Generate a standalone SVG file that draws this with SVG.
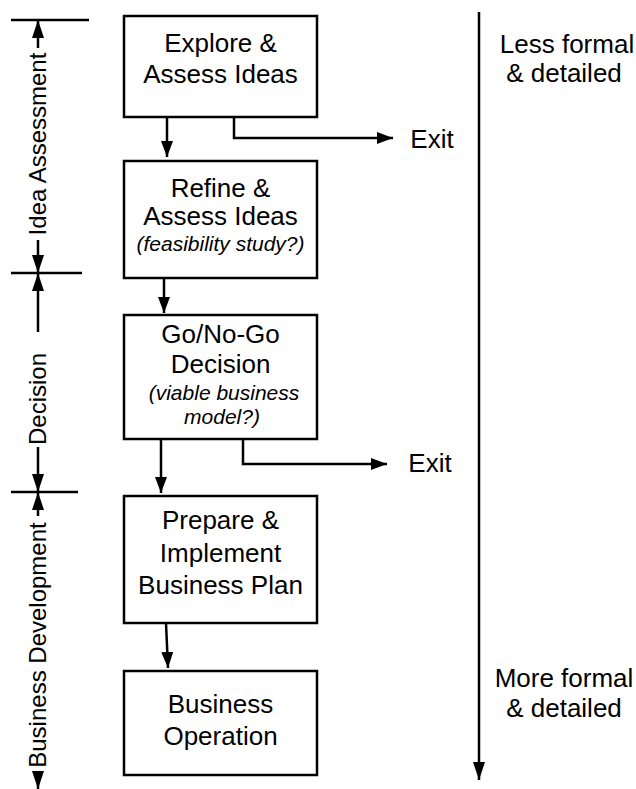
<svg xmlns="http://www.w3.org/2000/svg" width="636" height="789" viewBox="0 0 636 789">
<defs>
<style>
.box{fill:#fff;stroke:#000;stroke-width:2.5}
.t{font-family:"Liberation Sans",Arial,sans-serif;font-size:26px;fill:#000;text-anchor:middle}
.i{font-family:"Liberation Sans",Arial,sans-serif;font-size:21px;font-style:italic;fill:#000;text-anchor:middle}
.l{font-family:"Liberation Sans",Arial,sans-serif;font-size:24px;fill:#000;text-anchor:middle}
.ln{fill:none;stroke:#000;stroke-width:2.5}
.dm{fill:none;stroke:#000;stroke-width:2.5}
</style>
<marker id="ah" viewBox="0 0 16 12" refX="16" refY="6" markerWidth="16" markerHeight="12" markerUnits="userSpaceOnUse" orient="auto">
<path d="M0,0 L16,6 L0,12 Z" fill="#000"/>
</marker>
<marker id="ad" viewBox="0 0 18 12" refX="18" refY="6" markerWidth="18" markerHeight="12" markerUnits="userSpaceOnUse" orient="auto">
<path d="M0,0 L18,6 L0,12 Z" fill="#000"/>
</marker>
</defs>
<rect width="636" height="789" fill="#fff"/>

<g id="connectors">
<line class="ln" x1="167" y1="117" x2="167" y2="157" marker-end="url(#ah)"/>
<polyline class="ln" points="234,117 234,138 393,138" marker-end="url(#ah)"/>
<line class="ln" x1="164" y1="278" x2="164" y2="313" marker-end="url(#ah)"/>
<line class="ln" x1="161" y1="439" x2="161" y2="493" marker-end="url(#ah)"/>
<polyline class="ln" points="243,439 243,464 387,464" marker-end="url(#ah)"/>
<line class="ln" x1="166" y1="623" x2="168" y2="668" marker-end="url(#ah)"/>
<line class="ln" x1="479" y1="12" x2="479" y2="780" marker-end="url(#ad)"/>
</g>

<g id="phases">
<line class="dm" x1="11" y1="20" x2="89" y2="20"/>
<line class="dm" x1="38" y1="48" x2="38" y2="20" marker-end="url(#ad)"/>
<line class="dm" x1="38" y1="240" x2="38" y2="273" marker-end="url(#ad)"/>
<line class="dm" x1="11" y1="273" x2="82" y2="273"/>
<line class="dm" x1="38" y1="332" x2="38" y2="273" marker-end="url(#ad)"/>
<line class="dm" x1="38" y1="447" x2="38" y2="492" marker-end="url(#ad)"/>
<line class="dm" x1="11" y1="492" x2="78" y2="492"/>
<line class="dm" x1="38" y1="516" x2="38" y2="492" marker-end="url(#ad)"/>
<line class="dm" x1="38" y1="772" x2="38" y2="789" marker-end="url(#ad)"/>
<text class="l" transform="translate(46,144) rotate(-90)">Idea Assessment</text>
<text class="l" transform="translate(46,399) rotate(-90)">Decision</text>
<text class="l" transform="translate(46,645) rotate(-90)">Business Development</text>
</g>

<g id="node-explore">
<rect class="box" x="124" y="16" width="193" height="101"/>
<text class="t" x="220.5" y="52">Explore &amp;</text>
<text class="t" x="220.5" y="83">Assess Ideas</text>
</g>

<g id="node-refine">
<rect class="box" x="124" y="161" width="193" height="117"/>
<text class="t" x="220.5" y="197">Refine &amp;</text>
<text class="t" x="220.5" y="225">Assess Ideas</text>
<text class="i" x="220.5" y="251">(feasibility study?)</text>
</g>

<g id="node-decision">
<rect class="box" x="124" y="315" width="193" height="124"/>
<text class="t" x="220.5" y="343">Go/No-Go</text>
<text class="t" x="220.5" y="373">Decision</text>
<text class="i" x="224" y="400">(viable business</text>
<text class="i" x="222" y="424">model?)</text>
</g>

<g id="node-plan">
<rect class="box" x="124" y="496" width="193" height="127"/>
<text class="t" x="220.5" y="529">Prepare &amp;</text>
<text class="t" x="220.5" y="562">Implement</text>
<text class="t" x="220.5" y="594">Business Plan</text>
</g>

<g id="node-operation">
<rect class="box" x="124" y="671" width="193" height="104"/>
<text class="t" x="220.5" y="713">Business</text>
<text class="t" x="220.5" y="745">Operation</text>
</g>

<g id="labels">
<text class="t" x="432" y="148">Exit</text>
<text class="t" x="430" y="472">Exit</text>
<text class="t" x="567" y="53">Less formal</text>
<text class="t" x="564" y="82">&amp; detailed</text>
<text class="t" x="564" y="687">More formal</text>
<text class="t" x="564" y="717">&amp; detailed</text>
</g>
</svg>
